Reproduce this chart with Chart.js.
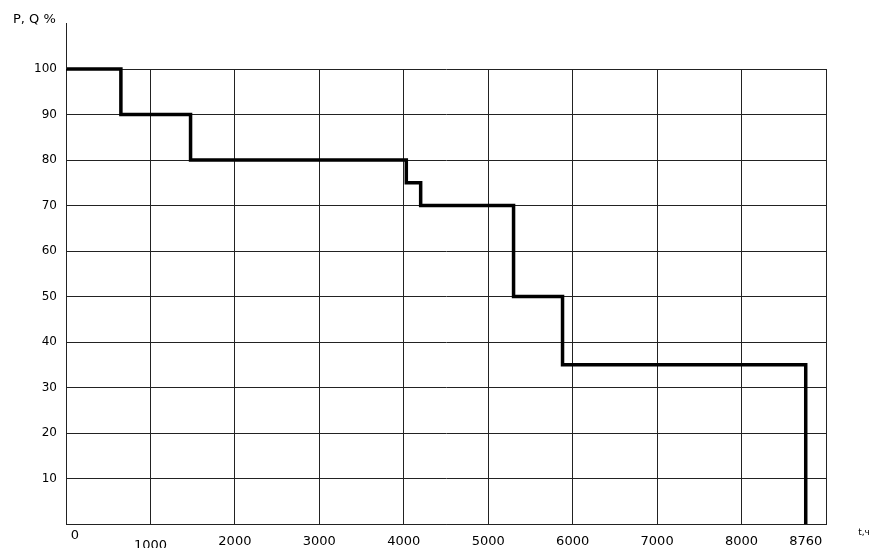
<!DOCTYPE html>
<html>
<head>
<meta charset="utf-8">
<script src="https://cdn.jsdelivr.net/npm/chart.js@4.4.1/dist/chart.umd.min.js"></script>
<style>
	body { margin: 0; background: #fff; }
	#wrap { width: 875px; height: 548px; position: relative; }
</style>
</head>
<body>
<div id="wrap"><canvas id="lineChart"></canvas></div>
<script>
'use strict';

// points where the load level changes (hours) and the level after it (%)
var stepHours = [0, 650, 1475, 4030, 4200, 5300, 5880, 8760];
var stepLevels = [100, 90, 80, 75, 70, 50, 35, 0];

var xTickValues = [0, 1000, 2000, 3000, 4000, 5000, 6000, 7000, 8000, 8760];
var xTickLabels = ['0', '1000', '2000', '3000', '4000', '5000', '6000', '7000', '8000', '8760'];
var yAxisTitle = 'P, Q %';
var xAxisTitle = 't,ч';

var FONT = '"DejaVu Sans", sans-serif';

var points = [];
for (var i = 0; i < stepHours.length; i++) {
	points.push({x: stepHours[i], y: stepLevels[i]});
}

// labels under the x axis are a bit uneven in the original, so draw them here
var labelsPlugin = {
	id: 'labels',
	afterDraw: function(chart) {
		var ctx = chart.ctx;
		var xs = chart.scales.x;
		var area = chart.chartArea;
		ctx.save();
		ctx.fillStyle = '#000';

		// y axis line goes on above the grid
		ctx.strokeStyle = '#222';
		ctx.lineWidth = 1;
		ctx.beginPath();
		ctx.moveTo(Math.round(area.left) + 0.5, area.top);
		ctx.lineTo(Math.round(area.left) + 0.5, 23);
		ctx.stroke();

		ctx.font = '13px ' + FONT;
		ctx.textAlign = 'center';
		ctx.textBaseline = 'middle';
		for (var i = 0; i < xTickValues.length; i++) {
			var px = xs.getPixelForValue(xTickValues[i]);
			var py = 542;
			if (xTickValues[i] === 0) { px += 9; py = 536; }
			if (xTickValues[i] === 1000) { py = 546; }
			ctx.fillText(xTickLabels[i], px, py);
		}

		ctx.textAlign = 'left';
		ctx.fillText(yAxisTitle, 13, 20);

		ctx.font = '9px ' + FONT;
		ctx.textAlign = 'center';
		ctx.fillText(xAxisTitle, 864, 533);
		ctx.restore();
	}
};

var chartData = {
	type: 'line',
	data: {
		datasets: [
			{
				data: points,
				borderColor: '#000',
				borderWidth: 3.5,
				borderJoinStyle: 'miter',
				stepped: 'before',
				pointRadius: 0,
				fill: false,
				clip: false
			}
		]
	},
	options: {
		responsive: true,
		maintainAspectRatio: false,
		animation: false,
		layout: {
			padding: {top: 69, right: 49, left: 0, bottom: 0}
		},
		plugins: {
			legend: {display: false},
			tooltip: {enabled: false}
		},
		scales: {
			x: {
				type: 'linear',
				min: 0,
				max: 9000,
				afterFit: function(scale) { scale.height = 24; },
				ticks: {display: false, stepSize: 1000},
				grid: {color: '#222', lineWidth: 1, drawTicks: false},
				border: {color: '#222', width: 1}
			},
			y: {
				min: 0,
				max: 100,
				afterFit: function(scale) { scale.width = 66; },
				ticks: {
					stepSize: 10,
					padding: 9,
					color: '#000',
					font: {family: FONT, size: 12},
					callback: function(v) { return v === 0 ? '' : v; }
				},
				grid: {color: '#222', lineWidth: 1, drawTicks: false},
				border: {color: '#222', width: 1}
			}
		}
	},
	plugins: [labelsPlugin]
};

new Chart(document.getElementById('lineChart'), chartData);
</script>
</body>
</html>
